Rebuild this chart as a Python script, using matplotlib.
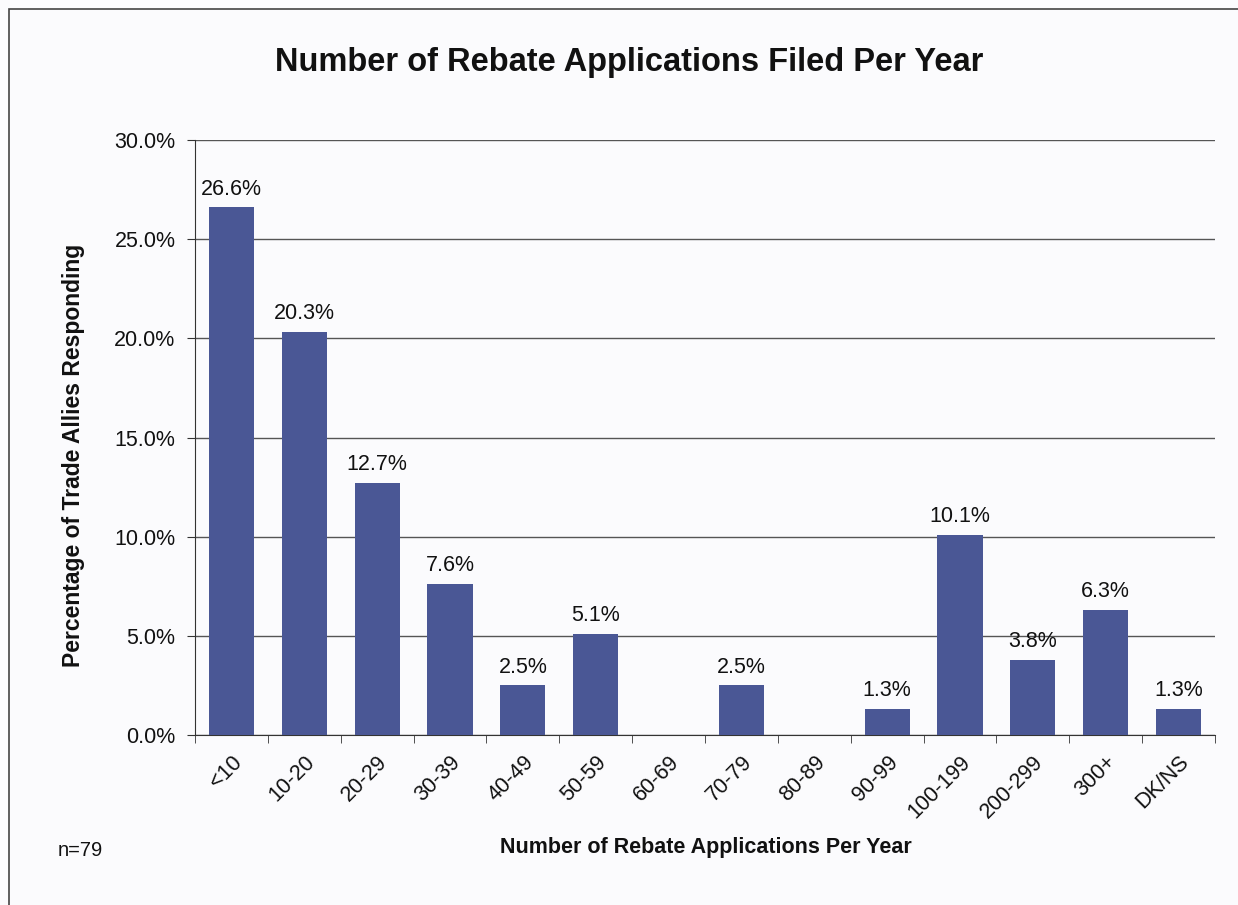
import numpy as np
import matplotlib.pyplot as plt
from matplotlib.patches import Rectangle

categories = ['<10', '10-20', '20-29', '30-39', '40-49', '50-59', '60-69',
              '70-79', '80-89', '90-99', '100-199', '200-299', '300+', 'DK/NS']
values = [26.6, 20.3, 12.7, 7.6, 2.5, 5.1, 0.0, 2.5, 0.0, 1.3, 10.1, 3.8, 6.3, 1.3]
yticks = [0, 5, 10, 15, 20, 25, 30]

plt.rcParams['font.family'] = ['Liberation Sans', 'DejaVu Sans']

fig = plt.figure(figsize=(12.38, 9.05), dpi=100)
fig.patch.set_facecolor('#fbfbfd')
ax = fig.add_axes([0.1575, 0.1878, 0.8239, 0.6575])
ax.set_facecolor('none')

x = np.arange(len(categories))
ax.bar(x, values, width=0.62, color='#4a5795', zorder=3)

for xi, v in zip(x, values):
    if v > 0:
        ax.text(xi, v + 0.4, '{:.1f}%'.format(v), ha='center', va='bottom',
                fontsize=15.5, color='#111111', zorder=4)

ax.set_xlim(-0.5, len(categories) - 0.5)
ax.set_ylim(0, 30)
ax.set_yticks(yticks)
ax.set_yticklabels(['{:.1f}%'.format(t) for t in yticks], fontsize=15.5,
                   color='#111111')
ax.yaxis.grid(True, color='#555555', linewidth=1.0, zorder=0)

# category labels sit under the bars, tick marks between them
ax.set_xticks(x)
ax.set_xticklabels(categories, rotation=45, ha='right', rotation_mode='anchor',
                   fontsize=15.5, color='#111111')
ax.tick_params(axis='x', length=0, pad=12)
ax.set_xticks(np.arange(-0.5, len(categories), 1), minor=True)
ax.tick_params(axis='x', which='minor', length=6, color='#333333')
ax.tick_params(axis='y', length=6, color='#333333', pad=8)

for side in ['top', 'right']:
    ax.spines[side].set_visible(False)
ax.spines['left'].set_color('#333333')
ax.spines['bottom'].set_color('#333333')

ax.set_ylabel('Percentage of Trade Allies Responding', fontsize=16.5,
              fontweight='bold', color='#111111')
ax.yaxis.set_label_coords(-0.108, 0.47)

fig.text(0.508, 0.931, 'Number of Rebate Applications Filed Per Year',
         ha='center', va='center', fontsize=23.5, fontweight='bold',
         color='#111111')
fig.text(0.57, 0.063, 'Number of Rebate Applications Per Year', ha='center',
         va='center', fontsize=15.5, fontweight='bold', color='#111111')
fig.text(0.047, 0.06, 'n=79', ha='left', va='center', fontsize=14.5,
         color='#111111')

# frame runs off the right and bottom edges
fig.patches.append(Rectangle((0.007, -0.05), 1.1, 1.04, transform=fig.transFigure,
                             fill=False, edgecolor='#444444', linewidth=1.2))

fig.savefig('out.png', dpi=100, facecolor=fig.get_facecolor())
